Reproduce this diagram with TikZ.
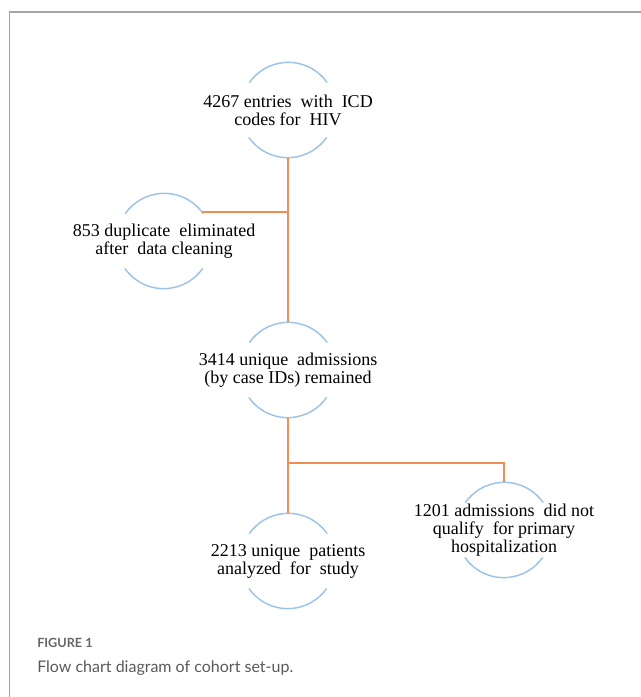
\documentclass[tikz,border=0pt]{standalone}
\usepackage{fontspec}
\setmainfont{Liberation Serif}
\newfontfamily\capfont{Lato}
\definecolor{linkorange}{HTML}{F08D52}
\definecolor{ringblue}{HTML}{9DC3E6}
\definecolor{framegray}{HTML}{A6A6A6}
\begin{document}
\begin{tikzpicture}[x=0.75pt,y=0.75pt,
				ring/.style={circle,minimum size=71.25pt,inner sep=0pt},
				txt/.style={align=center,inner sep=0pt,font=\fontsize{13.5}{13.5}\selectfont},
				link/.style={draw=linkorange,line width=1.4pt},
				rim/.style={draw=ringblue,line width=1.1pt}]
\useasboundingbox (0,0) rectangle (641,-697);
\draw[framegray,line width=1pt] (9.5,-697) |- (641,-12);
% steps of the cohort
\node[ring,label={[txt]center:{4267 entries\ \ with\ \ ICD\\codes for\ \ HIV}}] (entries) at (288,-110) {};
\node[ring,label={[txt]center:{853 duplicate\ \ eliminated\\after\ \ data cleaning}}] (duplicates) at (164,-241) {};
\node[ring,label={[txt]center:{3414 unique\ \ admissions\\(by case IDs) remained}}] (unique) at (288,-370) {};
\node[ring,label={[txt]center:{2213 unique\ \ patients\\analyzed\ \ for\ \ study}}] (patients) at (288,-561) {};
\node[ring,label={[txt]center:{1201 admissions\ \ did not\\qualify\ \ for primary\\hospitalization}}] (excluded) at (504,-530) {};
\coordinate (split) at (288,-463);
\foreach \n in {entries,duplicates,unique,patients,excluded}{
	\draw[rim] (\n.35) arc[start angle=35,end angle=145,radius=47.5];
	\draw[rim] (\n.215) arc[start angle=215,end angle=325,radius=47.5];
}
% connectors
\draw[link] (entries.south) -- (unique.north);
\draw[link] (duplicates.37) -- (duplicates.37 -| entries.south);
\draw[link] (unique.south) -- (patients.north);
\draw[link] (split) -| (excluded.north);
% caption
\node[anchor=base west,inner sep=0pt,text=black!60,font=\capfont\bfseries\fontsize{9.5}{11}\selectfont] (figlabel) at (37,-647) {FIGURE 1};
\node[anchor=base west,inner sep=0pt,text=black!65,font=\capfont\fontsize{12}{14}\selectfont] (figcaption) at (37,-672) {Flow chart diagram of cohort set-up.};
\end{tikzpicture}
\end{document}
